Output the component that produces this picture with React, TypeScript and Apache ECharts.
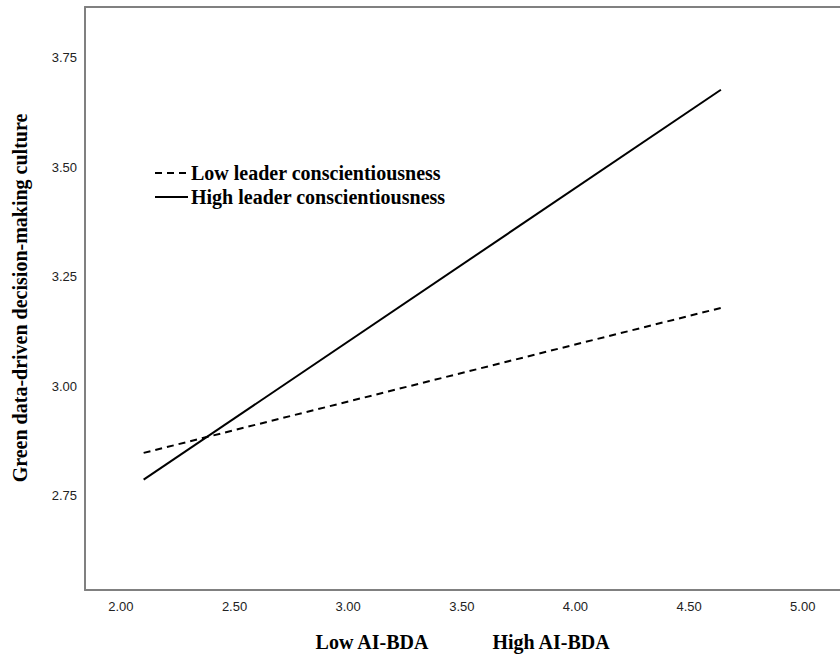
import React, { useEffect, useRef } from "react";
import * as echarts from "echarts";

const xPoints = [2.1, 4.64];
const lowValues = [2.848, 3.179];
const highValues = [2.787, 3.677];
const xTicks = [2.0, 2.5, 3.0, 3.5, 4.0, 4.5, 5.0];
const yTicks = [2.75, 3.0, 3.25, 3.5, 3.75];
const seriesNames = ["Low leader conscientiousness", "High leader conscientiousness"];
const yTitle = "Green data-driven decision-making culture";
const xCategoryTitles = ["Low AI-BDA", "High AI-BDA"];

const SERIF = "'Liberation Serif', 'Times New Roman', serif";
const SANS = "'Liberation Sans', Arial, sans-serif";

export default function App() {
  const ref = useRef<HTMLDivElement>(null);
  useEffect(() => {
    if (!ref.current) return;
    const chart = echarts.init(ref.current, undefined, { renderer: "svg" });
    const axisLineStyle = { color: "#808080", width: 2 };
    const option: any = {
      animation: false,
      backgroundColor: "#ffffff",
      grid: { left: 85, top: 7, right: 0, height: 583, containLabel: false },
      xAxis: [
        {
          type: "value",
          min: 1.842,
          max: 5.164,
          axisLine: { show: true, onZero: false, lineStyle: axisLineStyle },
          axisTick: { show: false },
          splitLine: { show: false },
          axisLabel: {
            customValues: xTicks,
            formatter: (v: number) => v.toFixed(2),
            fontSize: 13,
            color: "#222",
            fontFamily: SANS,
            margin: 10,
          },
        },
        {
          type: "value",
          position: "top",
          min: 1.842,
          max: 5.164,
          axisLine: { show: true, onZero: false, lineStyle: axisLineStyle },
          axisTick: { show: false },
          splitLine: { show: false },
          axisLabel: { show: false },
        },
      ],
      yAxis: {
        type: "value",
        min: 2.535,
        max: 3.866,
        axisLine: { show: true, onZero: false, lineStyle: axisLineStyle },
        axisTick: { show: false },
        splitLine: { show: false },
        axisLabel: {
          customValues: yTicks,
          formatter: (v: number) => v.toFixed(2),
          fontSize: 13,
          color: "#222",
          fontFamily: SANS,
          margin: 8,
        },
      },
      series: [
        {
          name: seriesNames[0],
          type: "line",
          symbol: "none",
          data: xPoints.map((x, i) => [x, lowValues[i]]),
          lineStyle: { color: "#000", width: 2, type: [7, 5] },
        },
        {
          name: seriesNames[1],
          type: "line",
          symbol: "none",
          data: xPoints.map((x, i) => [x, highValues[i]]),
          lineStyle: { color: "#000", width: 2, type: "solid" },
        },
      ],
      graphic: [
        {
          type: "line",
          shape: { x1: 155, y1: 173, x2: 188, y2: 173 },
          style: { stroke: "#000", lineWidth: 2, lineDash: [7, 5] },
        },
        {
          type: "line",
          shape: { x1: 155, y1: 197, x2: 188, y2: 197 },
          style: { stroke: "#000", lineWidth: 2 },
        },
        {
          type: "text",
          x: 191,
          y: 173,
          style: {
            text: seriesNames[0],
            font: `bold 20px ${SERIF}`,
            fill: "#000",
            textAlign: "left",
            textVerticalAlign: "middle",
          },
        },
        {
          type: "text",
          x: 191,
          y: 197,
          style: {
            text: seriesNames[1],
            font: `bold 20px ${SERIF}`,
            fill: "#000",
            textAlign: "left",
            textVerticalAlign: "middle",
          },
        },
        {
          type: "text",
          x: 20,
          y: 298,
          rotation: Math.PI / 2,
          style: {
            text: yTitle,
            font: `bold 20px ${SERIF}`,
            fill: "#000",
            textAlign: "center",
            textVerticalAlign: "middle",
          },
        },
        {
          type: "text",
          x: 372,
          y: 642,
          style: {
            text: xCategoryTitles[0],
            font: `bold 20px ${SERIF}`,
            fill: "#000",
            textAlign: "center",
            textVerticalAlign: "middle",
          },
        },
        {
          type: "text",
          x: 551,
          y: 642,
          style: {
            text: xCategoryTitles[1],
            font: `bold 20px ${SERIF}`,
            fill: "#000",
            textAlign: "center",
            textVerticalAlign: "middle",
          },
        },
      ],
    };
    chart.setOption(option);
    return () => chart.dispose();
  }, []);
  return (
    <div
      ref={ref}
      style={{ position: "absolute", left: 0, top: 0, width: 840, height: 658, background: "#fff" }}
    />
  );
}
